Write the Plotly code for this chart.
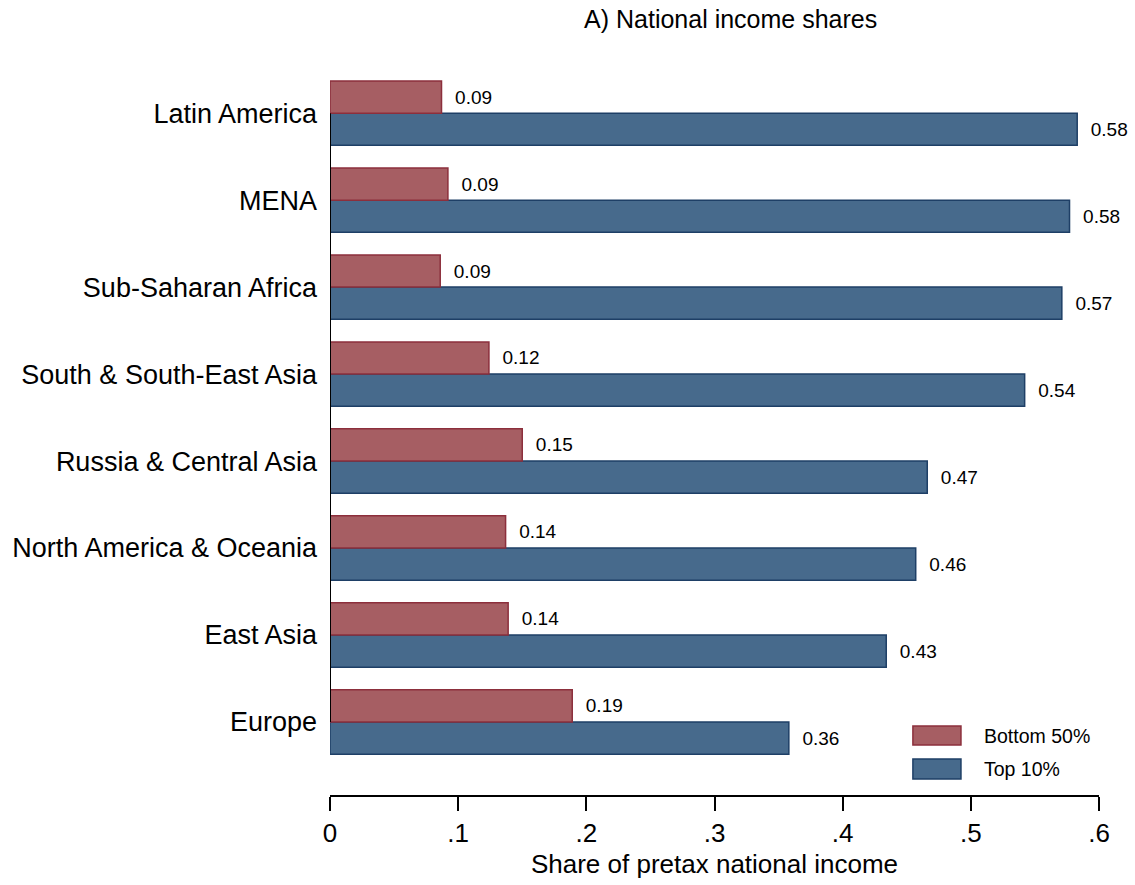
import plotly.graph_objects as go

# ---- data (top to bottom as displayed) ----
regions = ["Latin America", "MENA", "Sub-Saharan Africa", "South & South-East Asia",
           "Russia & Central Asia", "North America & Oceania", "East Asia", "Europe"]
bottom50 = [0.087, 0.092, 0.086, 0.124, 0.150, 0.137, 0.139, 0.189]
top10 = [0.583, 0.577, 0.571, 0.542, 0.466, 0.457, 0.434, 0.358]
series_names = ["Bottom 50%", "Top 10%"]
x_tickvals = [0, 0.1, 0.2, 0.3, 0.4, 0.5, 0.6]
x_ticktext = ["0", ".1", ".2", ".3", ".4", ".5", ".6"]
title_text = "A) National income shares"
x_title = "Share of pretax national income"

RED_FILL, RED_LINE = "#A65E63", "#8C2F3C"
BLUE_FILL, BLUE_LINE = "#476A8C", "#1E3F66"
FONT = "Liberation Sans, Arial, sans-serif"

order = list(reversed(regions))  # bottom-to-top category order

fig = go.Figure()
fig.add_trace(go.Bar(
    y=regions, x=top10, orientation="h", name=series_names[1],
    marker=dict(color=BLUE_FILL, line=dict(color=BLUE_LINE, width=1.5)),
    texttemplate="\u00a0\u00a0%{x:.2f}", textposition="outside",
    textfont=dict(size=19, color="black", family=FONT), cliponaxis=False,
    showlegend=False,
))
fig.add_trace(go.Bar(
    y=regions, x=bottom50, orientation="h", name=series_names[0],
    marker=dict(color=RED_FILL, line=dict(color=RED_LINE, width=1.5)),
    texttemplate="\u00a0\u00a0%{x:.2f}", textposition="outside",
    textfont=dict(size=19, color="black", family=FONT), cliponaxis=False,
    showlegend=False,
))

# y-axis line spanning first to last category (Stata style)
fig.add_shape(type="line", xref="x", yref="y", x0=0, x1=0, y0=0, y1=len(regions) - 1,
              line=dict(color="black", width=2))

# legend (drawn box swatches)
legend_items = [(series_names[0], RED_FILL, RED_LINE, 0.094, 0.0681),
                (series_names[1], BLUE_FILL, BLUE_LINE, 0.049, 0.0218)]
for name, fill, line, ytop, ybot in legend_items:
    fig.add_shape(type="rect", xref="paper", yref="paper", x0=0.758, x1=0.8205,
                  y0=ybot, y1=ytop, fillcolor=fill, line=dict(color=line, width=1.5))
    fig.add_annotation(xref="paper", yref="paper", x=0.848, y=(ytop + ybot) / 2,
                       text=name, showarrow=False, xanchor="left", yanchor="middle",
                       font=dict(size=19.5, color="black", family=FONT))

fig.update_layout(
    width=1135, height=885,
    margin=dict(l=330, r=36, t=61, b=90),
    paper_bgcolor="white", plot_bgcolor="white",
    barmode="group", bargap=0.26, bargroupgap=0,
    font=dict(family=FONT, color="black"),
    title=dict(text=title_text, x=0.521, xref="paper", xanchor="center",
               y=1 - 19 / 885, yref="container", yanchor="middle",
               font=dict(size=25, color="black", family=FONT)),
    showlegend=False,
)
fig.update_xaxes(
    range=[0, 0.6], tickvals=x_tickvals, ticktext=x_ticktext,
    showline=True, linecolor="black", linewidth=1.5, mirror=False,
    ticks="outside", ticklen=14, tickwidth=1.5, tickcolor="black",
    tickfont=dict(size=26, family=FONT, color="black"),
    showgrid=False, zeroline=False, automargin=False,
    title=dict(text=x_title, font=dict(size=26, family=FONT, color="black"), standoff=8),
)
fig.update_yaxes(
    type="category", categoryorder="array", categoryarray=order,
    range=[-0.84, 7.6], autorange=False,
    showline=False, ticks="", showgrid=False, zeroline=False, automargin=False,
    ticklabelstandoff=12,
    tickfont=dict(size=27, family=FONT, color="black"),
)

fig.write_html("out.html", config={"displayModeBar": False},
               post_script="document.body.style.margin='0';")
